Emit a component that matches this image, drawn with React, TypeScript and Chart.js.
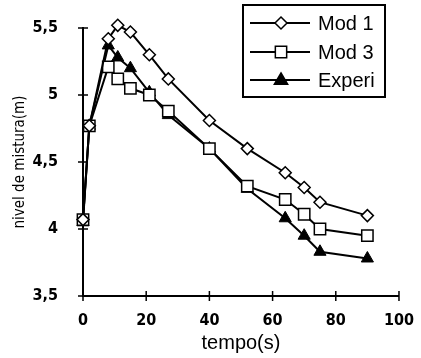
import React, { useEffect, useRef } from 'react';
import { Chart, registerables } from 'chart.js';

Chart.register(...registerables);

const times = [0, 2, 8, 11, 15, 21, 27, 40, 52, 64, 70, 75, 90];
const mod1 = [4.07, 4.77, 5.42, 5.52, 5.47, 5.3, 5.12, 4.81, 4.6, 4.42, 4.31, 4.2, 4.1];
const mod3 = [4.07, 4.77, 5.21, 5.12, 5.05, 5.0, 4.88, 4.6, 4.32, 4.22, 4.11, 4.0, 3.95];
const experi = [4.05, 4.77, 5.37, 5.28, 5.2, 5.02, 4.85, 4.6, 4.3, 4.08, 3.95, 3.83, 3.78];
const seriesLabels = ['Mod 1', 'Mod 3', 'Experi'];
const xTickValues = [0, 20, 40, 60, 80, 100];
const yTickValues = [3.5, 4, 4.5, 5, 5.5];
const yTickLabels = ['3,5', '4', '4,5', '5', '5,5'];
const xTitle = 'tempo(s)';
const yTitle = 'nivel de mistura(m)';

const tickFont = { family: '"DejaVu Sans Condensed", "DejaVu Sans", sans-serif', size: 16, weight: 'bold' as const };

const axisTicksPlugin = {
  id: 'axisTicks',
  afterDraw(chart: any) {
    const { ctx, chartArea, scales } = chart;
    ctx.save();
    ctx.strokeStyle = '#000';
    ctx.lineWidth = 1.5;
    ctx.beginPath();
    for (const v of yTickValues) {
      const y = scales.y.getPixelForValue(v);
      ctx.moveTo(chartArea.left - 5, y);
      ctx.lineTo(chartArea.left + 5, y);
    }
    for (const v of xTickValues) {
      const x = scales.x.getPixelForValue(v);
      ctx.moveTo(x, chartArea.bottom - 5);
      ctx.lineTo(x, chartArea.bottom + 5);
    }
    ctx.stroke();
    ctx.restore();
  },
};

function drawMarker(ctx: CanvasRenderingContext2D, style: string, x: number, y: number, r: number, fill: string) {
  ctx.beginPath();
  if (style === 'rectRot') {
    ctx.moveTo(x, y - r);
    ctx.lineTo(x + r, y);
    ctx.lineTo(x, y + r);
    ctx.lineTo(x - r, y);
    ctx.closePath();
  } else if (style === 'rect') {
    const s = r * Math.SQRT1_2;
    ctx.rect(x - s, y - s, 2 * s, 2 * s);
  } else {
    ctx.moveTo(x, y - r);
    ctx.lineTo(x + r * 0.95, y + r * 0.6);
    ctx.lineTo(x - r * 0.95, y + r * 0.6);
    ctx.closePath();
  }
  ctx.fillStyle = fill;
  ctx.fill();
  ctx.stroke();
}

const boxLegendPlugin = {
  id: 'boxLegend',
  afterDraw(chart: any) {
    const { ctx } = chart;
    const left = 243, top = 5, right = 385, bottom = 97;
    ctx.save();
    ctx.fillStyle = '#fff';
    ctx.fillRect(left, top, right - left, bottom - top);
    ctx.strokeStyle = '#000';
    ctx.lineWidth = 2;
    ctx.strokeRect(left, top, right - left, bottom - top);
    const rows = [23, 52, 80];
    chart.data.datasets.forEach((ds: any, i: number) => {
      const y = rows[i];
      ctx.strokeStyle = '#000';
      ctx.lineWidth = 2;
      ctx.beginPath();
      ctx.moveTo(250, y);
      ctx.lineTo(310, y);
      ctx.stroke();
      ctx.lineWidth = 1.5;
      drawMarker(ctx, ds.pointStyle, 281, y, ds.pointRadius, ds.pointBackgroundColor);
      ctx.fillStyle = '#000';
      ctx.font = '20px "Liberation Sans", Arial, sans-serif';
      ctx.textBaseline = 'middle';
      ctx.textAlign = 'left';
      ctx.fillText(ds.label, 318, y + 1);
    });
    ctx.restore();
  },
};

export default function App() {
  const canvasRef = useRef<HTMLCanvasElement | null>(null);

  useEffect(() => {
    document.body.style.margin = '0';
    const canvas = canvasRef.current;
    if (!canvas) return;
    const mk = (vals: number[]) => times.map((t, i) => ({ x: t, y: vals[i] }));
    const chart = new Chart(canvas, {
      type: 'line',
      data: {
        datasets: [
          {
            label: seriesLabels[0],
            data: mk(mod1),
            borderColor: '#000',
            borderWidth: 2,
            pointStyle: 'rectRot',
            pointRadius: 6,
            pointBackgroundColor: '#fff',
            pointBorderColor: '#000',
            pointBorderWidth: 1.5,
            clip: false,
          },
          {
            label: seriesLabels[1],
            data: mk(mod3),
            borderColor: '#000',
            borderWidth: 2,
            pointStyle: 'rect',
            pointRadius: 8,
            pointBackgroundColor: '#fff',
            pointBorderColor: '#000',
            pointBorderWidth: 1.5,
            clip: false,
          },
          {
            label: seriesLabels[2],
            data: mk(experi),
            borderColor: '#000',
            borderWidth: 2,
            pointStyle: 'triangle',
            pointRadius: 7,
            pointBackgroundColor: '#000',
            pointBorderColor: '#000',
            pointBorderWidth: 1,
            clip: false,
          },
        ],
      },
      options: {
        animation: false,
        responsive: false,
        devicePixelRatio: 1,
        layout: { padding: { top: 28, right: 12, left: 0, bottom: 0 } },
        plugins: {
          legend: { display: false },
          tooltip: { enabled: false },
        },
        scales: {
          x: {
            type: 'linear',
            min: 0,
            max: 100,
            afterFit: (s: any) => { s.height = 62; },
            afterBuildTicks: (s: any) => { s.ticks = xTickValues.map((v) => ({ value: v })); },
            ticks: { color: '#000', font: tickFont, padding: 7, maxRotation: 0 },
            grid: { display: false },
            border: { display: true, color: '#000', width: 2 },
            title: {
              display: true,
              text: xTitle,
              color: '#000',
              font: { family: '"Liberation Sans", Arial, sans-serif', size: 20 },
              padding: { top: 0, bottom: 3 },
            },
          },
          y: {
            type: 'linear',
            min: 3.5,
            max: 5.5,
            afterFit: (s: any) => { s.width = 83; },
            afterBuildTicks: (s: any) => { s.ticks = yTickValues.map((v) => ({ value: v })); },
            ticks: {
              color: '#000',
              font: tickFont,
              padding: 17,
              callback: (v: any) => {
                const i = yTickValues.indexOf(Number(v));
                return i >= 0 ? yTickLabels[i] : '';
              },
            },
            grid: { display: false },
            border: { display: true, color: '#000', width: 2 },
            title: {
              display: true,
              text: yTitle,
              color: '#000',
              font: { family: '"DejaVu Sans Condensed", "DejaVu Sans", sans-serif', size: 15 },
              padding: { top: 11, bottom: 0 },
            },
          },
        },
      },
      plugins: [axisTicksPlugin, boxLegendPlugin],
    } as any);
    return () => chart.destroy();
  }, []);

  return (
    <div style={{ position: 'absolute', left: 0, top: 0, width: 421, height: 358, background: '#fff' }}>
      <canvas ref={canvasRef} width={421} height={358} />
    </div>
  );
}
